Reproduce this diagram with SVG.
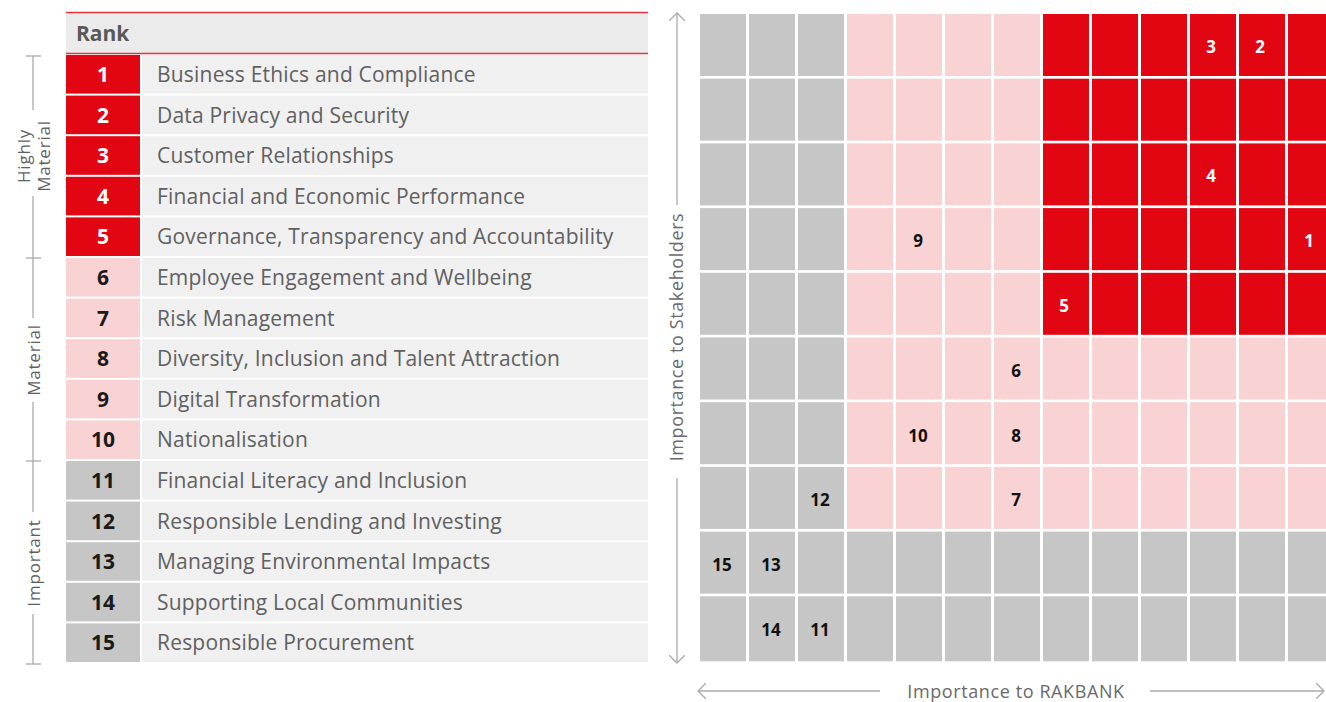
<svg xmlns="http://www.w3.org/2000/svg" width="1326" height="702" viewBox="0 0 1326 702">
<style>
.r{fill:#E20613}.p{fill:#F9D3D4}.g{fill:#C6C6C6}.t{fill:#F0F0F0}
.rt{font-family:"Open Sans","Liberation Sans",sans-serif;font-size:21px;fill:#606060;letter-spacing:0.2px}
.rn{font-family:"Open Sans","Liberation Sans",sans-serif;font-size:21px;font-weight:bold;text-anchor:middle;fill:#1a1a1a}
.rn.w{fill:#fff}
.gn{font-family:"Open Sans","Liberation Sans",sans-serif;font-size:17px;font-weight:bold;text-anchor:middle;fill:#111}
.gn.w{fill:#fff}
.ax{font-family:"Open Sans","Liberation Sans",sans-serif;font-size:18px;fill:#6a6a6a;text-anchor:middle;letter-spacing:0.6px}
.al{font-family:"Open Sans","Liberation Sans",sans-serif;font-size:17px;fill:#606060;text-anchor:middle;letter-spacing:0.8px}
.ln{stroke:#AAAAAA;stroke-width:1.3;fill:none}
</style>
<defs>
<marker id="ah" markerWidth="16" markerHeight="16" refX="8" refY="8" orient="auto" markerUnits="userSpaceOnUse">
<path d="M0,0 L8,8 L0,16" fill="none" stroke="#AAAAAA" stroke-width="1.3"/>
</marker>
</defs>

<g id="table">
<rect x="66" y="12" width="582" height="42" fill="#EBEBEB"/>
<line x1="66" y1="12.5" x2="648" y2="12.5" stroke="#E5333D" stroke-width="1.5"/>
<line x1="66" y1="53.5" x2="648" y2="53.5" stroke="#E5333D" stroke-width="1.5"/>
<text x="76" y="41" font-family="'Open Sans','Liberation Sans',sans-serif" font-size="21" font-weight="bold" fill="#595959">Rank</text>
</g>

<g id="rows">
<g id="row1"><rect class="r" x="66" y="55" width="74" height="38.6"/><rect class="t" x="142" y="55" width="506" height="38.6"/><text class="rn w" x="103" y="82">1</text><text class="rt" x="157" y="82">Business Ethics and Compliance</text></g>
<g id="row2"><rect class="r" x="66" y="95.6" width="74" height="38.6"/><rect class="t" x="142" y="95.6" width="506" height="38.6"/><text class="rn w" x="103" y="122.6">2</text><text class="rt" x="157" y="122.6">Data Privacy and Security</text></g>
<g id="row3"><rect class="r" x="66" y="136.2" width="74" height="38.6"/><rect class="t" x="142" y="136.2" width="506" height="38.6"/><text class="rn w" x="103" y="163.2">3</text><text class="rt" x="157" y="163.2">Customer Relationships</text></g>
<g id="row4"><rect class="r" x="66" y="176.8" width="74" height="38.6"/><rect class="t" x="142" y="176.8" width="506" height="38.6"/><text class="rn w" x="103" y="203.8">4</text><text class="rt" x="157" y="203.8">Financial and Economic Performance</text></g>
<g id="row5"><rect class="r" x="66" y="217.4" width="74" height="38.6"/><rect class="t" x="142" y="217.4" width="506" height="38.6"/><text class="rn w" x="103" y="244.4">5</text><text class="rt" x="157" y="244.4">Governance, Transparency and Accountability</text></g>
<g id="row6"><rect class="p" x="66" y="258" width="74" height="38.6"/><rect class="t" x="142" y="258" width="506" height="38.6"/><text class="rn" x="103" y="285">6</text><text class="rt" x="157" y="285">Employee Engagement and Wellbeing</text></g>
<g id="row7"><rect class="p" x="66" y="298.6" width="74" height="38.6"/><rect class="t" x="142" y="298.6" width="506" height="38.6"/><text class="rn" x="103" y="325.6">7</text><text class="rt" x="157" y="325.6">Risk Management</text></g>
<g id="row8"><rect class="p" x="66" y="339.2" width="74" height="38.6"/><rect class="t" x="142" y="339.2" width="506" height="38.6"/><text class="rn" x="103" y="366.2">8</text><text class="rt" x="157" y="366.2">Diversity, Inclusion and Talent Attraction</text></g>
<g id="row9"><rect class="p" x="66" y="379.8" width="74" height="38.6"/><rect class="t" x="142" y="379.8" width="506" height="38.6"/><text class="rn" x="103" y="406.8">9</text><text class="rt" x="157" y="406.8">Digital Transformation</text></g>
<g id="row10"><rect class="p" x="66" y="420.4" width="74" height="38.6"/><rect class="t" x="142" y="420.4" width="506" height="38.6"/><text class="rn" x="103" y="447.4">10</text><text class="rt" x="157" y="447.4">Nationalisation</text></g>
<g id="row11"><rect class="g" x="66" y="461" width="74" height="38.6"/><rect class="t" x="142" y="461" width="506" height="38.6"/><text class="rn" x="103" y="488">11</text><text class="rt" x="157" y="488">Financial Literacy and Inclusion</text></g>
<g id="row12"><rect class="g" x="66" y="501.6" width="74" height="38.6"/><rect class="t" x="142" y="501.6" width="506" height="38.6"/><text class="rn" x="103" y="528.6">12</text><text class="rt" x="157" y="528.6">Responsible Lending and Investing</text></g>
<g id="row13"><rect class="g" x="66" y="542.2" width="74" height="38.6"/><rect class="t" x="142" y="542.2" width="506" height="38.6"/><text class="rn" x="103" y="569.2">13</text><text class="rt" x="157" y="569.2">Managing Environmental Impacts</text></g>
<g id="row14"><rect class="g" x="66" y="582.8" width="74" height="38.6"/><rect class="t" x="142" y="582.8" width="506" height="38.6"/><text class="rn" x="103" y="609.8">14</text><text class="rt" x="157" y="609.8">Supporting Local Communities</text></g>
<g id="row15"><rect class="g" x="66" y="623.4" width="74" height="38.6"/><rect class="t" x="142" y="623.4" width="506" height="38.6"/><text class="rn" x="103" y="650.4">15</text><text class="rt" x="157" y="650.4">Responsible Procurement</text></g>
</g>

<g id="left-axis">
<line class="ln" x1="33" y1="56" x2="33" y2="110"/>
<line class="ln" x1="33" y1="196" x2="33" y2="318"/>
<line class="ln" x1="33" y1="402" x2="33" y2="512"/>
<line class="ln" x1="33" y1="614" x2="33" y2="664"/>
<line class="ln" x1="26" y1="56" x2="41" y2="56"/>
<line class="ln" x1="26" y1="258" x2="41" y2="258"/>
<line class="ln" x1="26" y1="461" x2="41" y2="461"/>
<line class="ln" x1="26" y1="664" x2="41" y2="664"/>
<text class="al" transform="translate(30,156) rotate(-90)"><tspan x="0" y="0">Highly</tspan><tspan x="0" y="20">Material</tspan></text>
<text class="al" transform="translate(40,360) rotate(-90)">Material</text>
<text class="al" transform="translate(40,563) rotate(-90)">Important</text>
</g>

<g id="grid">
<g id="grid-rows-top">
<rect class="g" x="700" y="14" width="46" height="62"/><rect class="g" x="749" y="14" width="46" height="62"/><rect class="g" x="798" y="14" width="46" height="62"/>
<rect class="p" x="847" y="14" width="46" height="62"/><rect class="p" x="896" y="14" width="46" height="62"/><rect class="p" x="945" y="14" width="46" height="62"/><rect class="p" x="994" y="14" width="46" height="62"/>
<rect class="r" x="1043" y="14" width="46" height="62"/><rect class="r" x="1092" y="14" width="46" height="62"/><rect class="r" x="1141" y="14" width="46" height="62"/><rect class="r" x="1190" y="14" width="46" height="62"/><rect class="r" x="1239" y="14" width="46" height="62"/><rect class="r" x="1288" y="14" width="46" height="62"/>

<rect class="g" x="700" y="78.7" width="46" height="62"/><rect class="g" x="749" y="78.7" width="46" height="62"/><rect class="g" x="798" y="78.7" width="46" height="62"/>
<rect class="p" x="847" y="78.7" width="46" height="62"/><rect class="p" x="896" y="78.7" width="46" height="62"/><rect class="p" x="945" y="78.7" width="46" height="62"/><rect class="p" x="994" y="78.7" width="46" height="62"/>
<rect class="r" x="1043" y="78.7" width="46" height="62"/><rect class="r" x="1092" y="78.7" width="46" height="62"/><rect class="r" x="1141" y="78.7" width="46" height="62"/><rect class="r" x="1190" y="78.7" width="46" height="62"/><rect class="r" x="1239" y="78.7" width="46" height="62"/><rect class="r" x="1288" y="78.7" width="46" height="62"/>

<rect class="g" x="700" y="143.4" width="46" height="62"/><rect class="g" x="749" y="143.4" width="46" height="62"/><rect class="g" x="798" y="143.4" width="46" height="62"/>
<rect class="p" x="847" y="143.4" width="46" height="62"/><rect class="p" x="896" y="143.4" width="46" height="62"/><rect class="p" x="945" y="143.4" width="46" height="62"/><rect class="p" x="994" y="143.4" width="46" height="62"/>
<rect class="r" x="1043" y="143.4" width="46" height="62"/><rect class="r" x="1092" y="143.4" width="46" height="62"/><rect class="r" x="1141" y="143.4" width="46" height="62"/><rect class="r" x="1190" y="143.4" width="46" height="62"/><rect class="r" x="1239" y="143.4" width="46" height="62"/><rect class="r" x="1288" y="143.4" width="46" height="62"/>

<rect class="g" x="700" y="208.1" width="46" height="62"/><rect class="g" x="749" y="208.1" width="46" height="62"/><rect class="g" x="798" y="208.1" width="46" height="62"/>
<rect class="p" x="847" y="208.1" width="46" height="62"/><rect class="p" x="896" y="208.1" width="46" height="62"/><rect class="p" x="945" y="208.1" width="46" height="62"/><rect class="p" x="994" y="208.1" width="46" height="62"/>
<rect class="r" x="1043" y="208.1" width="46" height="62"/><rect class="r" x="1092" y="208.1" width="46" height="62"/><rect class="r" x="1141" y="208.1" width="46" height="62"/><rect class="r" x="1190" y="208.1" width="46" height="62"/><rect class="r" x="1239" y="208.1" width="46" height="62"/><rect class="r" x="1288" y="208.1" width="46" height="62"/>

<rect class="g" x="700" y="272.8" width="46" height="62"/><rect class="g" x="749" y="272.8" width="46" height="62"/><rect class="g" x="798" y="272.8" width="46" height="62"/>
<rect class="p" x="847" y="272.8" width="46" height="62"/><rect class="p" x="896" y="272.8" width="46" height="62"/><rect class="p" x="945" y="272.8" width="46" height="62"/><rect class="p" x="994" y="272.8" width="46" height="62"/>
<rect class="r" x="1043" y="272.8" width="46" height="62"/><rect class="r" x="1092" y="272.8" width="46" height="62"/><rect class="r" x="1141" y="272.8" width="46" height="62"/><rect class="r" x="1190" y="272.8" width="46" height="62"/><rect class="r" x="1239" y="272.8" width="46" height="62"/><rect class="r" x="1288" y="272.8" width="46" height="62"/>
</g>
<g id="grid-rows-mid">
<rect class="g" x="700" y="337.5" width="46" height="62"/><rect class="g" x="749" y="337.5" width="46" height="62"/><rect class="g" x="798" y="337.5" width="46" height="62"/>
<rect class="p" x="847" y="337.5" width="46" height="62"/><rect class="p" x="896" y="337.5" width="46" height="62"/><rect class="p" x="945" y="337.5" width="46" height="62"/><rect class="p" x="994" y="337.5" width="46" height="62"/><rect class="p" x="1043" y="337.5" width="46" height="62"/><rect class="p" x="1092" y="337.5" width="46" height="62"/><rect class="p" x="1141" y="337.5" width="46" height="62"/><rect class="p" x="1190" y="337.5" width="46" height="62"/><rect class="p" x="1239" y="337.5" width="46" height="62"/><rect class="p" x="1288" y="337.5" width="46" height="62"/>

<rect class="g" x="700" y="402.2" width="46" height="62"/><rect class="g" x="749" y="402.2" width="46" height="62"/><rect class="g" x="798" y="402.2" width="46" height="62"/>
<rect class="p" x="847" y="402.2" width="46" height="62"/><rect class="p" x="896" y="402.2" width="46" height="62"/><rect class="p" x="945" y="402.2" width="46" height="62"/><rect class="p" x="994" y="402.2" width="46" height="62"/><rect class="p" x="1043" y="402.2" width="46" height="62"/><rect class="p" x="1092" y="402.2" width="46" height="62"/><rect class="p" x="1141" y="402.2" width="46" height="62"/><rect class="p" x="1190" y="402.2" width="46" height="62"/><rect class="p" x="1239" y="402.2" width="46" height="62"/><rect class="p" x="1288" y="402.2" width="46" height="62"/>

<rect class="g" x="700" y="466.9" width="46" height="62"/><rect class="g" x="749" y="466.9" width="46" height="62"/><rect class="g" x="798" y="466.9" width="46" height="62"/>
<rect class="p" x="847" y="466.9" width="46" height="62"/><rect class="p" x="896" y="466.9" width="46" height="62"/><rect class="p" x="945" y="466.9" width="46" height="62"/><rect class="p" x="994" y="466.9" width="46" height="62"/><rect class="p" x="1043" y="466.9" width="46" height="62"/><rect class="p" x="1092" y="466.9" width="46" height="62"/><rect class="p" x="1141" y="466.9" width="46" height="62"/><rect class="p" x="1190" y="466.9" width="46" height="62"/><rect class="p" x="1239" y="466.9" width="46" height="62"/><rect class="p" x="1288" y="466.9" width="46" height="62"/>
</g>
<g id="grid-rows-bottom">
<rect class="g" x="700" y="531.6" width="46" height="62"/><rect class="g" x="749" y="531.6" width="46" height="62"/><rect class="g" x="798" y="531.6" width="46" height="62"/><rect class="g" x="847" y="531.6" width="46" height="62"/><rect class="g" x="896" y="531.6" width="46" height="62"/><rect class="g" x="945" y="531.6" width="46" height="62"/><rect class="g" x="994" y="531.6" width="46" height="62"/><rect class="g" x="1043" y="531.6" width="46" height="62"/><rect class="g" x="1092" y="531.6" width="46" height="62"/><rect class="g" x="1141" y="531.6" width="46" height="62"/><rect class="g" x="1190" y="531.6" width="46" height="62"/><rect class="g" x="1239" y="531.6" width="46" height="62"/><rect class="g" x="1288" y="531.6" width="46" height="62"/>

<rect class="g" x="700" y="596.3" width="46" height="65"/><rect class="g" x="749" y="596.3" width="46" height="65"/><rect class="g" x="798" y="596.3" width="46" height="65"/><rect class="g" x="847" y="596.3" width="46" height="65"/><rect class="g" x="896" y="596.3" width="46" height="65"/><rect class="g" x="945" y="596.3" width="46" height="65"/><rect class="g" x="994" y="596.3" width="46" height="65"/><rect class="g" x="1043" y="596.3" width="46" height="65"/><rect class="g" x="1092" y="596.3" width="46" height="65"/><rect class="g" x="1141" y="596.3" width="46" height="65"/><rect class="g" x="1190" y="596.3" width="46" height="65"/><rect class="g" x="1239" y="596.3" width="46" height="65"/><rect class="g" x="1288" y="596.3" width="46" height="65"/>
</g>
</g>

<g id="grid-labels">
<text class="gn w" x="1211" y="53">3</text>
<text class="gn w" x="1260" y="53">2</text>
<text class="gn w" x="1211" y="182">4</text>
<text class="gn" x="918" y="247">9</text>
<text class="gn w" x="1309" y="247">1</text>
<text class="gn w" x="1064" y="312">5</text>
<text class="gn" x="1016" y="377">6</text>
<text class="gn" x="918" y="442">10</text>
<text class="gn" x="1016" y="442">8</text>
<text class="gn" x="820" y="506">12</text>
<text class="gn" x="1016" y="506">7</text>
<text class="gn" x="722" y="571">15</text>
<text class="gn" x="771" y="571">13</text>
<text class="gn" x="771" y="636">14</text>
<text class="gn" x="820" y="636">11</text>
</g>

<g id="connectors">
<line class="ln" x1="677" y1="205" x2="677" y2="13" marker-end="url(#ah)"/>
<line class="ln" x1="677" y1="478" x2="677" y2="663" marker-end="url(#ah)"/>
<line class="ln" x1="880" y1="691" x2="698" y2="691" marker-end="url(#ah)"/>
<line class="ln" x1="1150" y1="691" x2="1324" y2="691" marker-end="url(#ah)"/>
</g>
<text class="ax" transform="translate(683,337) rotate(-90)">Importance to Stakeholders</text>
<text class="ax" x="1016" y="698">Importance to RAKBANK</text>
</svg>
